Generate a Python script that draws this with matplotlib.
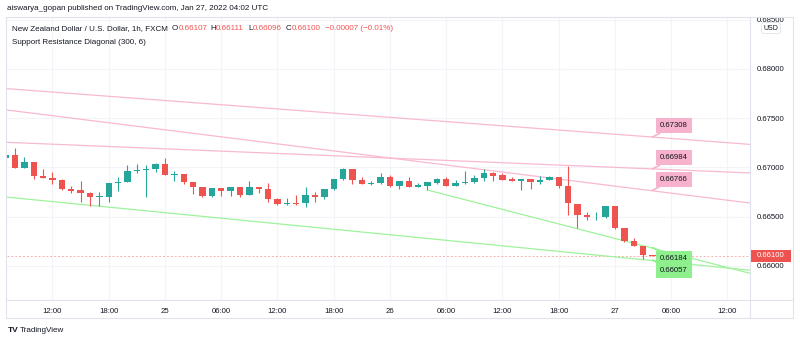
import matplotlib
matplotlib.use('Agg')
import matplotlib.pyplot as plt
import matplotlib.dates as mdates
import pandas as pd
from matplotlib.patches import Rectangle
from matplotlib.lines import Line2D

plt.rcParams['font.family'] = ['Liberation Sans', 'DejaVu Sans']

# hourly NZD/USD bars, Jan 24 07:00 -> Jan 27 04:00 UTC
times = pd.date_range('2022-01-24 07:00', '2022-01-27 04:00', freq='h')

opens = [0.67098, 0.67125, 0.66996, 0.67051, 0.66912, 0.66894, 0.66868, 0.66783, 0.66766, 0.66742,
         0.66695, 0.66701, 0.66844, 0.66851, 0.66962, 0.66973, 0.66983,
         0.67034, 0.66922, 0.66932, 0.66848, 0.66800, 0.66711, 0.66787, 0.66756, 0.66800, 0.66722, 0.66800,
         0.66776, 0.66678, 0.66630, 0.66640, 0.66634, 0.66719, 0.66698, 0.66780, 0.66881, 0.66983, 0.66871,
         0.66833, 0.66840,
         0.66898, 0.66810, 0.66861, 0.66803, 0.66813, 0.66844, 0.66878, 0.66813, 0.66837, 0.66848, 0.66894,
         0.66939, 0.66922, 0.66878, 0.66864, 0.66881, 0.66848, 0.66874, 0.66901, 0.66810, 0.66627, 0.66515,
         0.66492, 0.66492, 0.66604, 0.66380, 0.66251, 0.66203, 0.66107]
highs = [0.67135, 0.67193, 0.67102, 0.67054, 0.66983, 0.66955, 0.66878, 0.66810, 0.66864, 0.66746,
         0.66746, 0.66840, 0.66898, 0.67020, 0.67030, 0.67023, 0.67041,
         0.67091, 0.66962, 0.66935, 0.66851, 0.66803, 0.66793, 0.66793, 0.66803, 0.66803, 0.66858, 0.66803,
         0.66837, 0.66685, 0.66685, 0.66719, 0.66797, 0.66752, 0.66783, 0.66884, 0.66996, 0.66986, 0.66898,
         0.66864, 0.66939,
         0.66922, 0.66864, 0.66904, 0.66844, 0.66851, 0.66891, 0.66904, 0.66871, 0.66962, 0.66925, 0.66980,
         0.66955, 0.66939, 0.66904, 0.66884, 0.66884, 0.66912, 0.66912, 0.66904, 0.67013, 0.66630, 0.66549,
         0.66543, 0.66607, 0.66607, 0.66383, 0.66285, 0.66205, 0.66111]
lows = [0.67089, 0.66993, 0.66993, 0.66878, 0.66891, 0.66833, 0.66772, 0.66742, 0.66647, 0.66604,
        0.66604, 0.66644, 0.66762, 0.66848, 0.66939, 0.66701, 0.66955,
        0.66917, 0.66861, 0.66827, 0.66726, 0.66701, 0.66701, 0.66711, 0.66711, 0.66701, 0.66719, 0.66736,
        0.66650, 0.66622, 0.66614, 0.66617, 0.66600, 0.66650, 0.66678, 0.66769, 0.66876, 0.66830, 0.66830,
        0.66820, 0.66835,
        0.66805, 0.66776, 0.66800, 0.66800, 0.66769, 0.66827, 0.66810, 0.66810, 0.66835, 0.66844, 0.66858,
        0.66864, 0.66871, 0.66858, 0.66769, 0.66776, 0.66827, 0.66871, 0.66787, 0.66515, 0.66386, 0.66465,
        0.66465, 0.66488, 0.66376, 0.66241, 0.66200, 0.66068, 0.66096]
closes = [0.67125, 0.66996, 0.67051, 0.66912, 0.66894, 0.66868, 0.66783, 0.66762, 0.66742, 0.66695,
          0.66708, 0.66840, 0.66854, 0.66962, 0.66976, 0.66983, 0.67034,
          0.66922, 0.66932, 0.66848, 0.66803, 0.66711, 0.66790, 0.66756, 0.66800, 0.66722, 0.66800, 0.66776,
          0.66678, 0.66630, 0.66640, 0.66630, 0.66719, 0.66698, 0.66780, 0.66881, 0.66983, 0.66871, 0.66833,
          0.66844, 0.66898,
          0.66810, 0.66861, 0.66803, 0.66820, 0.66848, 0.66878, 0.66813, 0.66837, 0.66851, 0.66894, 0.66939,
          0.66915, 0.66874, 0.66864, 0.66881, 0.66848, 0.66871, 0.66901, 0.66810, 0.66634, 0.66515, 0.66492,
          0.66498, 0.66604, 0.66380, 0.66251, 0.66203, 0.66107, 0.66100]

# support / resistance diagonals: (start time, start price, end time, end price)
sr_start_time = ['2022-01-24 07:09', '2022-01-24 07:09', '2022-01-24 07:09', '2022-01-26 04:00', '2022-01-24 07:09']
sr_start_price = [0.67799, 0.67254, 0.67582, 0.66769, 0.66697]
sr_end_time = ['2022-01-27 14:24'] * 5
sr_end_price = [0.67233, 0.66943, 0.66637, 0.65923, 0.65955]
sr_kind = ['res', 'res', 'res', 'sup', 'sup']
sr_label_time = '2022-01-27 04:00'
sr_label_price = [0.67308, 0.66984, 0.66766, 0.66184, 0.66057]

last_price = 0.66100
price_ticks = [0.660, 0.665, 0.670, 0.675, 0.680, 0.685]
time_ticks = ['2022-01-24 12:00', '2022-01-24 18:00', '2022-01-25 00:00', '2022-01-25 06:00',
              '2022-01-25 12:00', '2022-01-25 18:00', '2022-01-26 00:00', '2022-01-26 06:00',
              '2022-01-26 12:00', '2022-01-26 18:00', '2022-01-27 00:00', '2022-01-27 06:00',
              '2022-01-27 12:00']
time_labels = ['12:00', '18:00', '25', '06:00', '12:00', '18:00', '26', '06:00', '12:00', '18:00',
               '27', '06:00', '12:00']

UP = '#26a69a'
DOWN = '#ef5350'
PINK = '#f7b3cd'
PINK_LINE = '#f8b9d1'
GREEN = '#8ef08c'
GREEN_LINE = '#9ff39c'
TXT = '#131722'
GRID = '#f2f4f9'
BORDER = '#e0e3eb'

W, H = 800, 343


def fpx(x, y):
    return x / W, 1 - y / H


fig = plt.figure(figsize=(8, 3.43), dpi=100)
ax = fig.add_axes([7 / W, 43 / H, 743 / W, 283 / H])

x = mdates.date2num(times)
ax.set_xlim(mdates.date2num(pd.Timestamp('2022-01-24 07:09')),
            mdates.date2num(pd.Timestamp('2022-01-27 14:24')))
ax.set_ylim(0.65652, 0.68527)

# candles
cols = [UP if c >= o else DOWN for o, c in zip(opens, closes)]
ax.vlines(x, lows, highs, colors=cols, lw=0.8, zorder=3)
bottoms = [min(o, c) for o, c in zip(opens, closes)]
heights = [max(abs(c - o), 0.000012) for o, c in zip(opens, closes)]
ax.bar(x, heights, bottom=bottoms, width=0.68 / 24, color=cols, linewidth=0, zorder=4)

# last price dashed line
ax.axhline(last_price, color=DOWN, lw=0.7, ls=(0, (2, 2)), alpha=0.45, zorder=2)

# diagonals + labels
lx = mdates.date2num(pd.Timestamp(sr_label_time))
for t0, p0, t1, p1, kind in zip(sr_start_time, sr_start_price, sr_end_time, sr_end_price, sr_kind):
    col = PINK_LINE if kind == 'res' else GREEN_LINE
    ax.plot([mdates.date2num(pd.Timestamp(t0)), mdates.date2num(pd.Timestamp(t1))], [p0, p1],
            color=col, lw=0.9, zorder=2)
for kind, lp in zip(sr_kind, sr_label_price):
    fc = PINK if kind == 'res' else GREEN
    dy = 5.5 if kind == 'res' else -5.0
    ax.annotate(f'{lp:.5f}', xy=(lx, lp), xytext=(5.5, dy), textcoords='offset points',
                ha='left', va='bottom' if kind == 'res' else 'top', fontsize=5.6, color=TXT,
                bbox=dict(boxstyle='square,pad=0.5', fc=fc, ec='none'),
                arrowprops=dict(arrowstyle='-', color=fc, lw=1.2, shrinkA=0, shrinkB=0),
                zorder=6, annotation_clip=False)

# axes, ticks, grid
for s in ax.spines.values():
    s.set_visible(False)
ax.yaxis.tick_right()
ax.set_yticks(price_ticks)
ax.set_yticklabels([f'{p:.5f}' for p in price_ticks])
ax.set_xticks(mdates.date2num(pd.to_datetime(time_ticks)))
ax.set_xticklabels(time_labels)
ax.tick_params(length=0, labelsize=5.6, colors=TXT)
ax.tick_params(axis='y', pad=5)
ax.tick_params(axis='x', pad=6)
ax.grid(True, color=GRID, lw=0.8, zorder=0)
ax.set_axisbelow(True)

# current price box on the scale
box_h = 0.00059
ax.add_patch(Rectangle((1.0015, last_price - box_h), 40 / 743, 2 * box_h,
                       transform=ax.get_yaxis_transform(), fc=DOWN, ec='none',
                       clip_on=False, zorder=7))
ax.text(1.0015 + 20 / 743, last_price, f'{last_price:.5f}', transform=ax.get_yaxis_transform(),
        ha='center', va='center', fontsize=5.6, color='white', zorder=8, clip_on=False)

# frame
fig.add_artist(Rectangle(fpx(6, 318), 787 / W, 301 / H, transform=fig.transFigure,
                         fc='none', ec=BORDER, lw=0.8))
fig.add_artist(Line2D([750 / W, 750 / W], [1 - 17 / H, 1 - 318 / H], transform=fig.transFigure,
                      color=BORDER, lw=0.8))
fig.add_artist(Line2D([6 / W, 793 / W], [1 - 300 / H, 1 - 300 / H], transform=fig.transFigure,
                      color=BORDER, lw=0.8))

# USD badge
fig.text(*fpx(771, 28), 'USD', ha='center', va='center', fontsize=5, color=TXT,
         bbox=dict(boxstyle='round,pad=0.3,rounding_size=0.4', fc='white', ec=BORDER, lw=0.6))

# header
fig.text(*fpx(7, 9), 'aiswarya_gopan published on TradingView.com, Jan 27, 2022 04:02 UTC',
         ha='left', va='center', fontsize=5.8, color=TXT)
fig.text(*fpx(12, 28.5), 'New Zealand Dollar / U.S. Dollar, 1h, FXCM',
         ha='left', va='center', fontsize=5.8, color=TXT)
ohlc_names = ['O', 'H', 'L', 'C']
ohlc_vals = [opens[-1], highs[-1], lows[-1], closes[-1]]
ohlc_x = [172.0, 210.0, 248.0, 285.5]
ohlc_gap = [6.6, 6.2, 5.0, 6.2]
for nm, v, xp, g in zip(ohlc_names, ohlc_vals, ohlc_x, ohlc_gap):
    fig.text(*fpx(xp, 28.5), nm, ha='left', va='center', fontsize=5.8, color=TXT)
    fig.text(*fpx(xp + g, 28.5), f'{v:.5f}', ha='left', va='center', fontsize=5.8, color=DOWN)
fig.text(*fpx(325, 28.5), '\u22120.00007 (\u22120.01%)', ha='left', va='center',
         fontsize=5.8, color=DOWN)
fig.text(*fpx(12, 42), 'Support Resistance Diagonal (300, 6)', ha='left', va='center',
         fontsize=5.8, color=TXT)

# footer logo
fig.text(*fpx(8, 331), 'TV', ha='left', va='center', fontsize=6, fontweight='bold', color=TXT)
fig.text(*fpx(20, 331), 'TradingView', ha='left', va='center', fontsize=5.8, color=TXT)

fig.savefig('out.png', dpi=100)
